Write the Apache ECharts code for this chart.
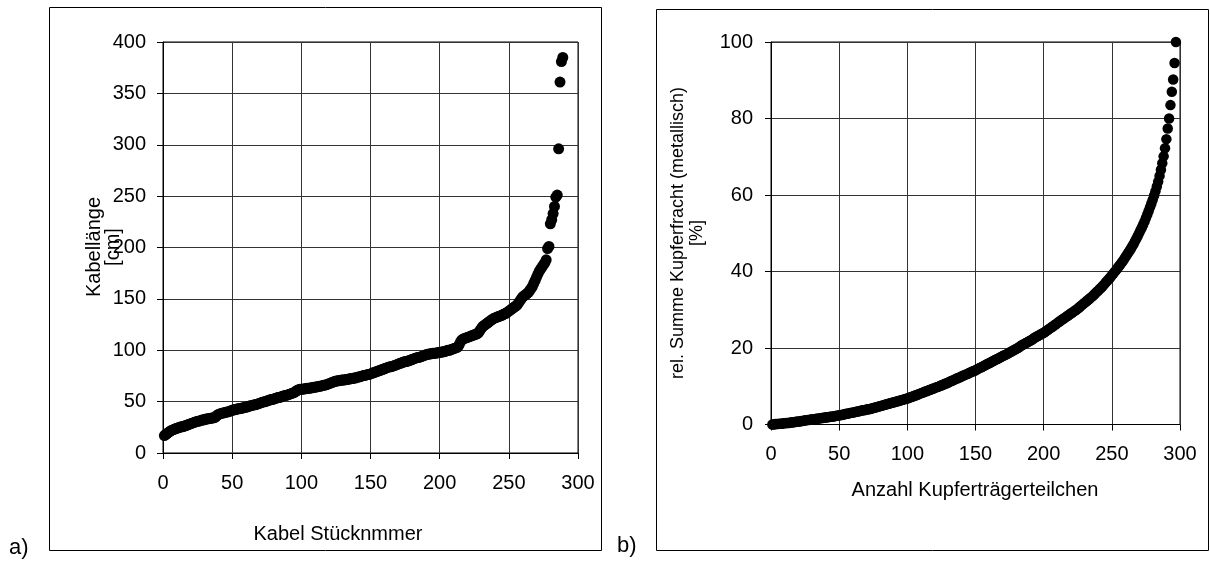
<!DOCTYPE html>
<html>
<head>
<meta charset="utf-8">
<script src="https://cdn.jsdelivr.net/npm/echarts@6/dist/echarts.min.js"></script>
<style>
  html, body { margin: 0; padding: 0; background: #fff; }
  #main { width: 1210px; height: 563px; }
</style>
</head>
<body>
<div id="main"></div>
<script>
var myChart = echarts.init(document.getElementById('main'));

// a) Kabellänge [cm] je Kabel, aufsteigend sortiert (Stücknummer 1..289)
var kabelLaenge = [
    17, 18, 19, 20, 21, 22, 22.5, 23, 23.5, 24,
    24.5, 25, 25.5, 25.5, 26, 26.5, 27, 27.5, 28, 28.5,
    29, 29.5, 30, 30.5, 31, 31, 31.5, 32, 32, 32.5,
    33, 33, 33.5, 33.5, 34, 34, 34.5, 35, 36.5, 37.5,
    38, 38.5, 39, 39, 39.5, 40, 40, 40.5, 41, 41.5,
    42, 42, 42.5, 43, 43, 43.5, 43.5, 44, 44.5, 44.5,
    45, 45.5, 46, 46, 46.5, 47, 47, 47.5, 48, 48.5,
    49, 49.5, 50, 50, 50.5, 51, 51.5, 52, 52, 52.5,
    53, 53.5, 54, 54, 54.5, 55, 55.5, 56, 56, 56.5,
    57, 57.5, 58, 58.5, 59, 60, 61, 61.5, 62, 62,
    62, 62.5, 62.5, 63, 63, 63, 63.5, 63.5, 64, 64,
    64.5, 64.5, 65, 65, 65.5, 66, 66, 66.5, 67, 67.5,
    68, 68.5, 69, 69.5, 70, 70, 70.5, 70.5, 71, 71,
    71, 71.5, 71.5, 72, 72, 72.5, 72.5, 73, 73, 73.5,
    74, 74, 74.5, 75, 75.5, 75.5, 76, 76.5, 76.5, 77,
    77.5, 78, 78.5, 79, 79.5, 80, 80.5, 81, 81.5, 82,
    82.5, 83, 83.5, 84, 84, 84.5, 85, 85.5, 86, 86.5,
    87, 87.5, 88, 88.5, 89, 89, 89.5, 90, 90.5, 91,
    91.5, 92, 92.5, 93, 93, 93.5, 94, 94.5, 95, 95.5,
    96, 96, 96.5, 96.5, 97, 97, 97, 97.5, 97.5, 98,
    98, 98.5, 98.5, 99, 99.5, 100, 100, 100.5, 101, 101.5,
    102, 102.5, 103, 105, 108, 110, 111, 111.5, 112, 112.5,
    113, 113.5, 114, 114.5, 115, 115.5, 116, 117, 119, 121,
    123, 124, 125, 126, 127, 128, 129, 130, 131, 131.5,
    132, 132.5, 133, 133.5, 134, 135, 135.5, 136, 137, 138,
    139, 140, 141, 142, 143, 144, 146, 148, 150, 152,
    153, 154, 155, 156, 158, 160, 162, 165, 168, 171,
    174, 177, 179, 181, 183, 185, 188, 199, 201, 223,
    227, 233, 240, 249, 251, 296, 361, 381, 385
];

// b) rel. Summe Kupferfracht [%] über Anzahl Kupferträgerteilchen (1..297)
var kupferSumme = [
    0.0, 0.0, 0.1, 0.1, 0.1, 0.2, 0.2, 0.2, 0.3, 0.3,
    0.4, 0.4, 0.4, 0.5, 0.5, 0.6, 0.6, 0.7, 0.7, 0.8,
    0.8, 0.9, 0.9, 1.0, 1.1, 1.1, 1.2, 1.2, 1.3, 1.3,
    1.4, 1.4, 1.5, 1.5, 1.6, 1.6, 1.7, 1.7, 1.8, 1.8,
    1.9, 1.9, 2.0, 2.0, 2.1, 2.1, 2.2, 2.3, 2.3, 2.4,
    2.5, 2.5, 2.6, 2.7, 2.8, 2.8, 2.9, 3.0, 3.1, 3.1,
    3.2, 3.3, 3.4, 3.4, 3.5, 3.6, 3.7, 3.7, 3.8, 3.9,
    4.0, 4.0, 4.1, 4.2, 4.3, 4.4, 4.5, 4.6, 4.7, 4.8,
    4.9, 5.0, 5.1, 5.2, 5.3, 5.4, 5.5, 5.6, 5.7, 5.8,
    5.9, 6.0, 6.1, 6.2, 6.3, 6.4, 6.5, 6.6, 6.7, 6.8,
    6.9, 7.1, 7.2, 7.3, 7.5, 7.6, 7.7, 7.9, 8.0, 8.2,
    8.3, 8.4, 8.6, 8.7, 8.8, 9.0, 9.1, 9.3, 9.4, 9.5,
    9.7, 9.8, 9.9, 10.1, 10.2, 10.4, 10.5, 10.7, 10.8, 11.0,
    11.2, 11.3, 11.5, 11.6, 11.8, 12.0, 12.1, 12.3, 12.4, 12.6,
    12.8, 12.9, 13.1, 13.2, 13.4, 13.6, 13.7, 13.9, 14.0, 14.2,
    14.4, 14.6, 14.8, 14.9, 15.1, 15.3, 15.5, 15.7, 15.9, 16.0,
    16.2, 16.4, 16.6, 16.8, 17.0, 17.1, 17.3, 17.5, 17.7, 17.9,
    18.1, 18.2, 18.4, 18.6, 18.8, 19.0, 19.2, 19.4, 19.6, 19.8,
    20.0, 20.2, 20.5, 20.7, 20.9, 21.1, 21.3, 21.5, 21.7, 21.9,
    22.1, 22.3, 22.6, 22.8, 23.0, 23.2, 23.4, 23.6, 23.8, 24.0,
    24.2, 24.5, 24.7, 25.0, 25.2, 25.5, 25.7, 26.0, 26.2, 26.5,
    26.8, 27.0, 27.3, 27.5, 27.8, 28.0, 28.3, 28.5, 28.8, 29.0,
    29.3, 29.5, 29.8, 30.0, 30.3, 30.6, 30.9, 31.2, 31.5, 31.8,
    32.1, 32.4, 32.7, 33.0, 33.3, 33.6, 34.0, 34.3, 34.7, 35.0,
    35.4, 35.7, 36.1, 36.5, 36.9, 37.3, 37.7, 38.1, 38.5, 39.0,
    39.4, 39.9, 40.3, 40.8, 41.3, 41.7, 42.2, 42.7, 43.2, 43.8,
    44.3, 44.9, 45.4, 46.0, 46.6, 47.2, 47.9, 48.6, 49.3, 50.0,
    50.8, 51.5, 52.3, 53.1, 54.0, 54.9, 55.8, 56.8, 57.8, 58.8,
    59.9, 61.0, 62.2, 63.5, 65.0, 66.6, 68.3, 70.1, 72.2, 74.6,
    77.4, 80.0, 83.5, 87.0, 90.2, 94.5, 100
];

var xTicksA = [0, 50, 100, 150, 200, 250, 300];
var yTicksA = [0, 50, 100, 150, 200, 250, 300, 350, 400];
var yTicksB = [0, 20, 40, 60, 80, 100];

var FONT = 'Liberation Sans';
var lineCol = '#333';

function toPoints(arr) {
    return arr.map(function (v, i) { return [i + 1, v]; });
}

function valAxis(gridIndex, min, max, interval, margin) {
    return {
        type: 'value',
        gridIndex: gridIndex,
        min: min,
        max: max,
        interval: interval,
        axisLine: { show: true, lineStyle: { color: '#000', width: 1 } },
        axisTick: { show: true, length: 6, lineStyle: { color: '#000' } },
        axisLabel: { margin: margin, color: '#000', fontFamily: FONT, fontSize: 20 },
        splitLine: { show: true, lineStyle: { color: lineCol, width: 1 } }
    };
}

option = {
    animation: false,
    backgroundColor: '#fff',
    grid: [
        { left: 163, top: 42, width: 415, height: 411, show: true, borderColor: '#000', borderWidth: 1 },
        { left: 771, top: 42, width: 409, height: 382.5, show: true, borderColor: '#000', borderWidth: 1 }
    ],
    xAxis: [
        valAxis(0, xTicksA[0], xTicksA[xTicksA.length - 1], 50, 20),
        valAxis(1, xTicksA[0], xTicksA[xTicksA.length - 1], 50, 20)
    ],
    yAxis: [
        valAxis(0, yTicksA[0], yTicksA[yTicksA.length - 1], 50, 17),
        valAxis(1, yTicksB[0], yTicksB[yTicksB.length - 1], 20, 18)
    ],
    graphic: [
        { type: 'rect', z: -1, shape: { x: 49.5, y: 7.5, width: 552, height: 543 },
          style: { fill: 'none', stroke: '#000', lineWidth: 1 } },
        { type: 'rect', z: -1, shape: { x: 656.5, y: 9.5, width: 552, height: 541 },
          style: { fill: 'none', stroke: '#000', lineWidth: 1 } },
        { type: 'text', x: 9, y: 548, style: { text: 'a)', font: '22px ' + FONT, fill: '#000', textVerticalAlign: 'middle' } },
        { type: 'text', x: 617, y: 546, style: { text: 'b)', font: '22px ' + FONT, fill: '#000', textVerticalAlign: 'middle' } },
        { type: 'text', x: 338, y: 534, style: { text: 'Kabel Stücknmmer', font: '20px ' + FONT, fill: '#000', textAlign: 'center', textVerticalAlign: 'middle' } },
        { type: 'text', x: 975, y: 490, style: { text: 'Anzahl Kupferträgerteilchen', font: '20px ' + FONT, fill: '#000', textAlign: 'center', textVerticalAlign: 'middle' } },
        { type: 'text', x: 104, y: 247, rotation: Math.PI / 2,
          style: { text: 'Kabellänge\n[cm]', font: '20px ' + FONT, lineHeight: 19, fill: '#000', textAlign: 'center', textVerticalAlign: 'middle' } },
        { type: 'text', x: 688, y: 233, rotation: Math.PI / 2,
          style: { text: 'rel. Summe Kupferfracht (metallisch)\n[%]', font: '18px ' + FONT, lineHeight: 19, fill: '#000', textAlign: 'center', textVerticalAlign: 'middle' } }
    ],
    series: [
        {
            name: 'Kabellänge',
            type: 'scatter',
            xAxisIndex: 0,
            yAxisIndex: 0,
            symbol: 'circle',
            symbolSize: 11,
            itemStyle: { color: '#000', opacity: 1 },
            data: toPoints(kabelLaenge)
        },
        {
            name: 'Kupferfracht',
            type: 'scatter',
            xAxisIndex: 1,
            yAxisIndex: 1,
            symbol: 'circle',
            symbolSize: 10.5,
            itemStyle: { color: '#000', opacity: 1 },
            data: toPoints(kupferSumme)
        }
    ]
};

myChart.setOption(option);
</script>
</body>
</html>
